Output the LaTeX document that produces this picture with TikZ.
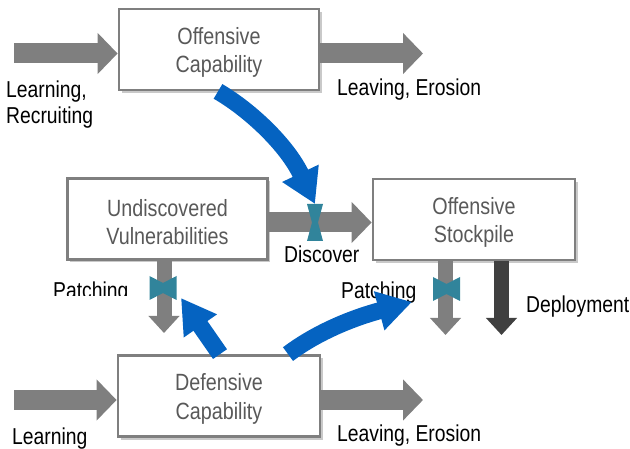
\documentclass[tikz,border=0pt]{standalone}
\usepackage{fontspec}
\setmainfont{Liberation Sans}[FakeStretch=0.84]
\usetikzlibrary{arrows.meta,calc,shadows}
\definecolor{boxgray}{HTML}{7F7F7F}
\definecolor{txtgray}{HTML}{595959}
\definecolor{flowgray}{HTML}{7F7F7F}
\definecolor{darkflow}{HTML}{404040}
\definecolor{ctrlblue}{HTML}{0563C1}
\definecolor{valveteal}{HTML}{31849B}
\begin{document}
\begin{tikzpicture}[x=1pt,y=-1pt,
  stockbox/.style={draw=boxgray,line width=2.8pt,fill=white,minimum width=200pt,minimum height=81pt,
    inner sep=0pt,
    drop shadow={shadow xshift=2.5pt,shadow yshift=-3pt,opacity=0.3,fill=black!70}},
  boxtext/.style={align=center,text=txtgray,font=\fontsize{23.5}{28.5}\selectfont,inner sep=0pt,yshift=-3pt},
  flow/.style={draw=flowgray,line width=20pt,-{Triangle[length=20pt,width=40pt]}},
  vflow/.style={draw=flowgray,line width=15pt,-{Triangle[length=17pt,width=30pt]}},
  ctrl/.style={draw=ctrlblue,line width=17pt,-{Triangle[length=34pt,width=38pt]}},
  valve/.style={fill=valveteal},
  lbl/.style={text=black,font=\fontsize{23}{26}\selectfont,inner sep=0pt}]
\useasboundingbox (0,0) rectangle (630,449);

% boxes
\node[stockbox,label={[boxtext]center:Offensive\\Capability}] (oc) at (219,49.5) {};
\node[stockbox,label={[boxtext]center:Undiscovered\\Vulnerabilities}] (uv) at (167.5,219) {};
\node[stockbox,minimum width=202pt,label={[boxtext]center:Offensive\\Stockpile}] (os) at (474,219.5) {};
\node[stockbox,minimum width=202pt,label={[boxtext]center:Defensive\\Capability}] (dc) at (219,396) {};

% free ends
\coordinate (inoc) at (14,53.5);
\coordinate (outoc) at (423,53.5);
\coordinate (indc) at (14,400);
\coordinate (outdc) at (423,400);
\coordinate (uvend) at (164,333);
\coordinate (ospend) at (445.5,335);
\coordinate (osdend) at (501.5,335);

% gray flows
\draw[flow] (inoc) -- ($(oc.west)+(0,4)$);
\draw[flow] ($(oc.east)+(0,4)$) -- (outoc);
\draw[flow] (indc) -- ($(dc.west)+(0,4)$);
\draw[flow] ($(dc.east)+(0,4)$) -- (outdc);
\draw[flow] ($(uv.east)+(0,3.5)$) -- ($(os.west)+(0,3)$);
\draw[vflow] (uv.south -| uvend) -- (uvend);
\draw[vflow] (os.south -| ospend) -- (ospend);
\draw[vflow,draw=darkflow] (os.south -| osdend) -- (osdend);

% valves
\coordinate (vd) at (315,222.5);
\coordinate (vl) at (163,288);
\coordinate (vr) at (446.5,289);
\fill[valve,shift={(vd)}] (-8,-18.5) -- (8,-18.5) -- (3,0) -- (8,18.5) -- (-8,18.5) -- (-3,0) -- cycle;
\fill[valve,shift={(vl)}] (-13.5,-12) -- (0,-5) -- (13.5,-12) -- (13.5,12) -- (0,5) -- (-13.5,12) -- cycle;
\fill[valve,shift={(vr)}] (-13.5,-12) -- (0,-5) -- (13.5,-12) -- (13.5,12) -- (0,5) -- (-13.5,12) -- cycle;

% labels
\node[lbl,anchor=north west,align=left] (lrn) at (6,80.5) {Learning,\\Recruiting};
\node[lbl,anchor=base west] (le1) at (337,96) {Leaving, Erosion};
\node[lbl,anchor=base west] (disc) at (284,263) {Discover};
\begin{scope}
\clip (0,0) rectangle (630,296);
\node[lbl,anchor=base west] (patl) at (53,298.5) {Patching};
\end{scope}
\node[lbl,anchor=base west] (patr) at (341,298.5) {Patching};
\node[lbl,anchor=base west] (dep) at (526,313) {Deployment};
\node[lbl,anchor=base west] (lrn2) at (12,444.5) {Learning};
\node[lbl,anchor=base west] (le2) at (337,441.5) {Leaving, Erosion};

% control arrows
\coordinate (c1end) at ($(vd)+(0,-18.5)$);
\coordinate (c2end) at ($(vl)+(18,10)$);
\coordinate (c3end) at (412,302);
\draw[ctrl] ($(oc.south)+(-1,0)$) .. controls (250,110) and (287,145) .. (c1end);
\draw[ctrl] ($(dc.north)+(1,0)$) -- (c2end);
\draw[ctrl] ($(dc.north)+(69,0)$) .. controls (312,336) and (345,320) .. (c3end);
\end{tikzpicture}
\end{document}
